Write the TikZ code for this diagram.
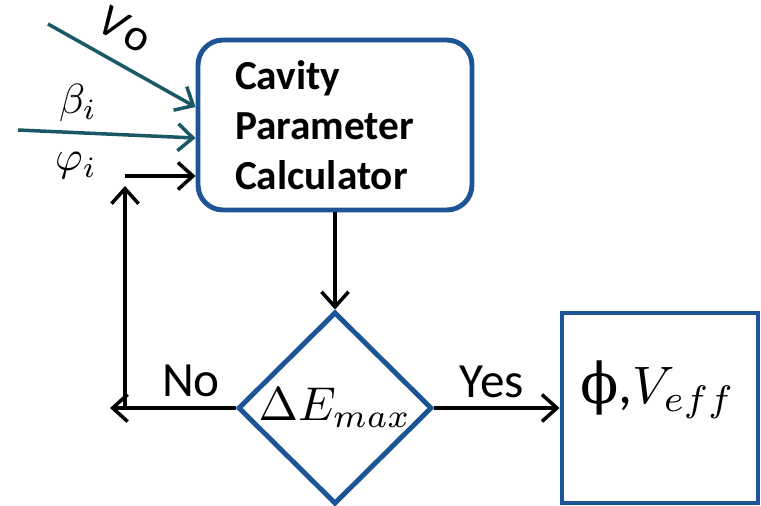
\documentclass[tikz,border=0pt]{standalone}
\usepackage[no-math]{fontspec}
\setmainfont{Carlito}
\newfontfamily\symfont{DejaVu Serif}
\usetikzlibrary{shapes.geometric,arrows.meta}
\definecolor{boxblue}{RGB}{28,84,150}
\definecolor{inteal}{RGB}{25,88,100}
\newcommand{\bigmath}[2]{\scalebox{#1}{\fontsize{10}{12}\selectfont$#2$}}

\begin{document}
\begin{tikzpicture}[x=0.02cm, y=-0.02cm,
    flow/.style={line width=2pt, -{Straight Barb[length=3mm,width=5.4mm]}},
    feed/.style={flow, draw=inteal},
    block/.style={draw=boxblue, line width=2.8pt},
    lbl/.style={font=\fontsize{28}{32}\selectfont}]
    \useasboundingbox (0,0) rectangle (761,505);
    % blocks
    \node[block, rounded corners=0.5cm, minimum width=5.48cm, minimum height=3.4cm,
          text width=4cm, inner xsep=0.74cm, align=left,
          font=\fontsize{23.5}{28.4}\selectfont\bfseries] (calc) at (335,125)
          {Cavity\\Parameter\\Calculator};
    \node[block, diamond, minimum width=3.88cm, minimum height=3.8cm, inner sep=0pt]
          (test) at (335,408) {\bigmath{2.7}{\Delta E_{max}}};
    \node[block, minimum width=3.92cm, minimum height=3.8cm] (result) at (660,408) {};
    \node[font=\fontsize{32}{34}\selectfont] (effText) at (658,390)
          {{\symfont ϕ},\bigmath{3}{V_{eff}}};
    % inputs
    \coordinate (vIn) at (48,24);
    \coordinate (betaIn) at (18,130);
    \draw[feed] (vIn) -- ([yshift=0.36cm]calc.west);
    \draw[feed] (betaIn) -- ([yshift=-0.26cm]calc.west);
    \node[font=\fontsize{26}{30}\selectfont, rotate=-28, inner sep=1pt] (voLbl) at (125,29)
          {\itshape V\kern2pt\upshape o};
    \node (betaLbl) at (78,103) {\bigmath{2.4}{\beta_i}};
    \node (phiLbl) at (76,166) {\bigmath{2.4}{\varphi_i}};
    % flow
    \draw[flow] (calc.south) -- (test.north);
    \draw[flow] (test.east) -- (result.west);
    \node[lbl] (yesLbl) at (492,382) {Yes};
    \coordinate (noEnd) at (110,408);
    \draw[flow] (test.west) -- (noEnd);
    \node[lbl] (noLbl) at (191,381) {No};
    \coordinate (loopBot) at (125,408);
    \coordinate (loopTop) at (125,176);
    \draw[flow] (loopBot) -- ([yshift=-0.2cm]loopTop);
    \draw[flow] (loopTop) -- (loopTop -| calc.west);
\end{tikzpicture}
\end{document}
